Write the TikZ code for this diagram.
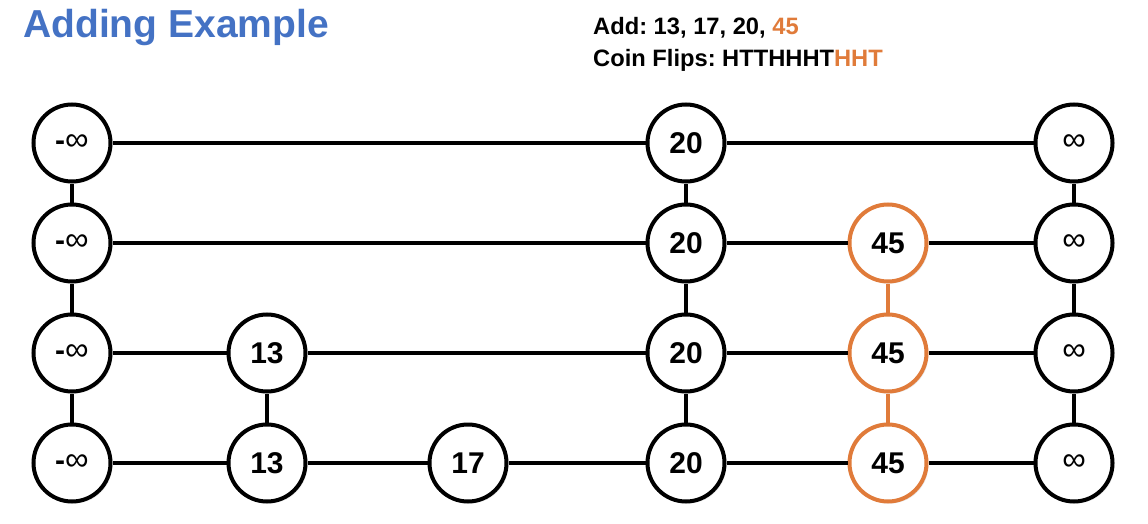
\documentclass[tikz,border=0pt]{standalone}
\usepackage{fontspec}
\setmainfont{Liberation Sans}
\usetikzlibrary{shadows}
\definecolor{titleblue}{HTML}{4472C4}
\definecolor{accent}{HTML}{E07B3A}
\begin{document}
\begin{tikzpicture}[x=1pt,y=-1pt,
  nd/.style={circle, draw=black, line width=4pt, fill=white, minimum size=77pt, inner sep=0pt,
    font=\fontsize{30}{33}\selectfont\bfseries,
    drop shadow={opacity=0.18, shadow xshift=2pt, shadow yshift=-2pt}},
  hot/.style={nd, draw=accent},
  ln/.style={line width=4pt, draw=black},
  hln/.style={line width=3.5pt, draw=accent}]
\useasboundingbox (0,0) rectangle (1148,524);
\node[anchor=base west, inner sep=0pt, text=titleblue, font=\fontsize{39}{42}\selectfont\bfseries] (title) at (23,38) {Adding Example};
\node[anchor=base west, inner sep=0pt, font=\fontsize{23.7}{26}\selectfont\bfseries\frenchspacing] (add) at (593,35) {Add: 13, 17, 20, \textcolor{accent}{45}};
\node[anchor=base west, inner sep=0pt, font=\fontsize{23.7}{26}\selectfont\bfseries\frenchspacing] (flips) at (593,67) {Coin Flips: HTTHHHT\textcolor{accent}{HHT}};
\foreach \r/\y in {0/143,1/243,2/353,3/463}{
  \node[nd] (m\r) at (72,\y) {-{\mdseries\fontsize{33}{33}\selectfont ∞}};
  \node[nd] (e\r) at (1074,\y) {\mdseries\fontsize{33}{33}\selectfont ∞};
  \node[nd] (c\r) at (686,\y) {20};
}
\node[nd] (a2) at (267,353) {13};
\node[nd] (a3) at (267,463) {13};
\node[nd] (b3) at (468,463) {17};
\node[hot] (d1) at (888,243) {45};
\node[hot] (d2) at (888,353) {45};
\node[hot] (d3) at (888,463) {45};
% vertical links
\draw[ln] (m0) -- (m1); \draw[ln] (m1) -- (m2); \draw[ln] (m2) -- (m3);
\draw[ln] (c0) -- (c1); \draw[ln] (c1) -- (c2); \draw[ln] (c2) -- (c3);
\draw[ln] (e0) -- (e1); \draw[ln] (e1) -- (e2); \draw[ln] (e2) -- (e3);
\draw[ln] (a2) -- (a3);
\draw[hln] (d1) -- (d2); \draw[hln] (d2) -- (d3);
% horizontal links
\draw[ln] (m0) -- (c0); \draw[ln] (c0) -- (e0);
\draw[ln] (m1) -- (c1); \draw[ln] (c1) -- (d1); \draw[ln] (d1) -- (e1);
\draw[ln] (m2) -- (a2); \draw[ln] (a2) -- (c2); \draw[ln] (c2) -- (d2); \draw[ln] (d2) -- (e2);
\draw[ln] (m3) -- (a3); \draw[ln] (a3) -- (b3); \draw[ln] (b3) -- (c3); \draw[ln] (c3) -- (d3); \draw[ln] (d3) -- (e3);
\end{tikzpicture}
\end{document}
